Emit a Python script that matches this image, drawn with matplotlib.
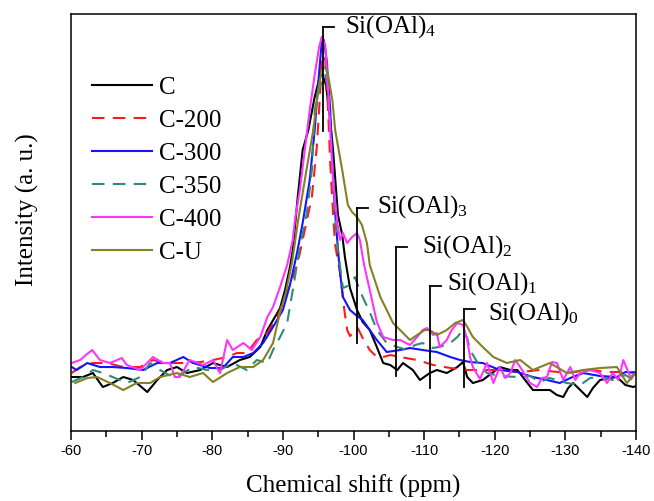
import numpy as np
import matplotlib
matplotlib.use('Agg')
import matplotlib.pyplot as plt

# chemical shift (ppm) and intensity (a.u.)
c_ppm = [-60.1, -61.7, -63.1, -64.5, -65.9, -67.4, -68.8, -70.8, -72.2, -73.6, -75.0, -76.4, -78.3, -80.1,
         -82.1, -83.9, -85.3, -86.8, -87.8, -89.2, -89.6, -90.3, -91.0, -91.4, -92.1, -92.8, -93.6, -94.5,
         -95.1, -95.5, -96.1, -96.7, -97.1, -97.8, -98.4, -98.8, -99.5, -100.5, -101.3, -102.3, -103.3,
         -104.2, -105.2, -106.2, -107.0, -108.4, -109.4, -110.8, -111.8, -113.2, -114.7, -115.5, -116.1,
         -116.9, -118.3, -119.8, -120.7, -122.2, -123.2, -124.3, -125.4, -126.8, -127.8, -128.8, -129.7,
         -130.4, -131.1, -132.1, -133.1, -133.9, -134.9, -136.3, -137.3, -138.5, -139.6, -140.0]
c_int = [54, 54, 58, 44, 48, 54, 51, 39, 51, 61, 64, 58, 61, 68,
         64, 71, 74, 84, 101, 118, 123, 141, 164, 181, 234, 281, 301, 334,
         351, 358, 346, 311, 281, 216, 196, 173, 143, 121, 109, 101, 84,
         68, 66, 61, 68, 61, 51, 58, 61, 58, 64, 69, 54,
         48, 51, 59, 64, 61, 61, 51, 41, 41, 41, 36, 34,
         43, 48, 41, 34, 43, 51, 53, 54, 46, 44, 45]

c200_ppm = [-60.1, -61.3, -63.1, -65.1, -67.4, -69.8, -71.6, -73.6, -76.4, -78.3, -80.1, -82.1, -83.5, -84.9,
            -86.3, -87.8, -89.2, -90.0, -91.0, -92.0, -92.4, -93.1, -94.1, -94.8, -95.3, -95.5, -96.0, -96.4,
            -96.7, -97.1, -97.4, -98.1, -98.7, -99.1, -99.5, -99.9, -100.6, -101.3, -102.3, -103.3, -104.2,
            -105.2, -106.6, -109.0, -111.3, -113.7, -116.1, -118.3, -120.7, -123.6, -126.4, -130.2, -133.5,
            -136.3, -140.0]
c200_int = [58, 64, 68, 68, 64, 64, 71, 68, 68, 69, 71, 74, 78, 78,
            91, 98, 114, 128, 146, 166, 178, 201, 234, 284, 341, 376, 371, 321,
            268, 218, 186, 158, 121, 101, 95, 98, 103, 93, 81, 74, 74,
            76, 74, 71, 66, 63, 61, 61, 61, 59, 61, 58, 61,
            59, 59]

c300_ppm = [-60.1, -60.8, -62.3, -64.1, -65.9, -67.9, -70.2, -72.2, -74.0, -75.9, -77.3, -79.7, -81.5, -82.9,
            -84.4, -85.8, -87.2, -88.6, -90.0, -91.0, -92.0, -92.8, -93.8, -94.5, -95.1, -95.5, -95.8, -96.2,
            -96.7, -97.0, -97.4, -97.8, -98.1, -98.5, -99.5, -100.5, -101.3, -102.3, -103.3, -104.7, -106.6,
            -108.0, -109.8, -111.8, -113.7, -115.1, -116.5, -118.3, -120.7, -123.2, -125.4, -127.4, -129.2,
            -130.7, -132.5, -134.9, -137.3, -138.5, -140.0]
c300_int = [64, 61, 68, 64, 64, 63, 61, 68, 68, 74, 68, 63, 63, 74,
            74, 78, 88, 104, 121, 146, 178, 208, 251, 301, 356, 389, 391, 371,
            321, 268, 218, 181, 158, 134, 121, 115, 111, 101, 91, 79, 81,
            83, 81, 79, 74, 71, 69, 68, 61, 59, 54, 51, 48,
            53, 58, 55, 54, 59, 58]

c350_ppm = [-60.1, -61.7, -63.1, -64.5, -65.9, -67.9, -69.8, -71.2, -72.6, -74.4, -75.9, -77.3, -79.3, -81.1,
            -82.9, -84.9, -86.3, -87.8, -88.6, -89.6, -90.6, -91.4, -92.4, -93.4, -94.1, -94.5, -95.3, -96.0,
            -96.4, -97.0, -97.4, -97.8, -98.5, -99.5, -100.2, -100.6, -101.3, -102.3, -103.3, -104.7, -106.2,
            -107.6, -108.7, -109.8, -111.1, -112.2, -113.7, -114.7, -115.5, -116.1, -116.5, -117.5, -118.9,
            -120.7, -123.2, -125.0, -126.4, -127.8, -130.2, -132.1, -133.5, -134.9, -136.7, -138.5, -139.6,
            -140.0]
c350_int = [49, 54, 61, 58, 54, 48, 54, 68, 61, 54, 58, 64, 61, 61,
            68, 61, 71, 68, 81, 94, 108, 141, 184, 218, 261, 321, 346, 356,
            341, 268, 216, 181, 143, 146, 154, 146, 134, 119, 101, 88, 84,
            81, 86, 88, 83, 84, 88, 94, 101, 93, 81, 69, 58,
            55, 54, 55, 49, 53, 48, 46, 53, 54, 51, 56, 51,
            49]

c400_ppm = [-60.1, -61.3, -62.1, -63.0, -64.1, -65.5, -67.2, -67.9, -69.8, -71.6, -73.0, -74.0, -74.7, -75.4,
            -76.8, -78.7, -80.1, -81.1, -82.1, -82.9, -84.4, -85.6, -86.8, -87.8, -88.6, -89.6, -90.6, -91.4,
            -91.7, -92.4, -93.1, -93.8, -94.5, -95.1, -95.5, -96.0, -96.4, -96.7, -97.1, -97.7, -98.1, -98.5,
            -99.1, -99.8, -100.5, -100.9, -101.5, -102.3, -103.3, -104.2, -105.6, -106.6, -108.0, -109.0,
            -109.8, -110.4, -111.3, -111.8, -112.2, -113.2, -113.9, -114.7, -115.5, -116.1, -116.5, -116.9,
            -117.9, -118.9, -119.8, -120.7, -121.5, -122.2, -122.9, -123.6, -124.3, -125.0, -126.0, -126.7,
            -127.4, -128.1, -128.8, -129.7, -130.7, -131.4, -132.1, -133.5, -134.9, -135.9, -136.7, -137.5,
            -138.2, -139.2, -140.0]
c400_int = [68, 71, 76, 81, 71, 68, 73, 66, 61, 74, 68, 68, 54, 54,
            71, 66, 71, 58, 91, 81, 88, 81, 94, 114, 124, 144, 166, 191,
            211, 241, 281, 321, 356, 383, 394, 386, 341, 301, 251, 208, 191, 198,
            188, 194, 198, 191, 166, 141, 109, 94, 91, 91, 86, 94,
            101, 103, 96, 98, 84, 91, 101, 108, 106, 91, 74, 64,
            52, 68, 48, 64, 53, 58, 71, 64, 56, 48, 44, 53,
            54, 69, 68, 51, 64, 51, 58, 61, 58, 48, 58, 51,
            71, 54, 58]

cu_ppm = [-60.6, -62.3, -63.7, -65.5, -67.4, -69.3, -71.2, -72.6, -75.0, -76.8, -78.7, -80.1, -82.1, -83.9,
          -85.8, -87.2, -88.6, -89.6, -90.4, -91.3, -92.1, -93.1, -94.3, -95.0, -95.5, -96.0, -96.4, -97.0,
          -97.4, -98.4, -99.2, -99.8, -100.5, -101.2, -101.9, -102.3, -103.8, -105.6, -106.6, -108.0, -109.0,
          -110.1, -110.8, -111.8, -113.2, -114.4, -115.5, -116.2, -116.9, -118.3, -119.8, -121.7, -123.6,
          -125.4, -127.8, -130.2, -132.5, -134.9, -137.3, -138.7, -140.0]
cu_int = [48, 53, 54, 48, 41, 48, 48, 54, 58, 54, 58, 49, 58, 64,
          64, 71, 88, 119, 138, 169, 208, 251, 301, 341, 361, 364, 356, 331,
          301, 261, 226, 219, 214, 206, 188, 166, 134, 108, 101, 91, 96,
          101, 101, 96, 101, 108, 111, 103, 94, 84, 74, 68, 71,
          61, 68, 58, 61, 63, 64, 48, 58]

series = [
    ('C', c_ppm, c_int, '#000000', '-'),
    ('C-200', c200_ppm, c200_int, '#ff1a1a', '--'),
    ('C-300', c300_ppm, c300_int, '#1414ff', '-'),
    ('C-350', c350_ppm, c350_int, '#2e8b7b', '--'),
    ('C-400', c400_ppm, c400_int, '#ff33ff', '-'),
    ('C-U', cu_ppm, cu_int, '#828224', '-'),
]

# Q^n assignments: line position, line bottom, line top, label baseline
site_labels = ['Si(OAl)$_4$', 'Si(OAl)$_3$', 'Si(OAl)$_2$', 'Si(OAl)$_1$', 'Si(OAl)$_0$']
site_ppm = [-95.7, -100.5, -106.0, -110.8, -115.6]
site_bottom = [300, 88, 55, 43, 44]
site_top = [404, 223, 184, 145, 122]
site_text_ppm = [-98.8, -103.3, -109.7, -113.2, -119.0]
site_text_y = [398, 218, 178, 141, 111]

plt.rcParams['font.family'] = ['Liberation Serif', 'DejaVu Serif']
plt.rcParams['mathtext.fontset'] = 'custom'
plt.rcParams['mathtext.rm'] = 'Liberation Serif'
plt.rcParams['mathtext.it'] = 'Liberation Serif:italic'
plt.rcParams['axes.unicode_minus'] = False

fig = plt.figure(figsize=(6.54, 5.01), dpi=100)
ax = fig.add_axes([0.1086, 0.1397, 0.8639, 0.8323])

for name, xs, ys, col, ls in series:
    line, = ax.plot(xs, ys, color=col, lw=1.5, ls=ls, label=name)
    if ls == '--':
        line.set_dashes((6, 4))

for lab, xp, yb, yt, xt, yt2 in zip(site_labels, site_ppm, site_bottom, site_top,
                                     site_text_ppm, site_text_y):
    ax.plot([xp, xp], [yb, yt], color='black', lw=1.3)
    ax.plot([xp, xp - 1.6], [yt, yt], color='black', lw=1.3)
    ax.text(xt, yt2, lab, fontsize=18, va='baseline', ha='left')

ax.set_xlim(-60, -140)
ax.set_ylim(0, 417)
ax.set_xticks(np.arange(-60, -141, -10))
ax.set_xticks(np.arange(-65, -140, -10), minor=True)
ax.set_yticks([])
for lbl in ax.get_xticklabels():
    lbl.set_fontfamily('Liberation Sans')
ax.tick_params(axis='x', which='major', direction='out', length=6.5, width=1.1,
               labelsize=10.5, pad=3)
ax.tick_params(axis='x', which='minor', direction='out', length=4, width=1.1)
for sp in ax.spines.values():
    sp.set_linewidth(1.1)

ax.set_xlabel('Chemical shift (ppm)', fontsize=18)
ax.xaxis.label.set_va('center')
ax.xaxis.set_label_coords(0.5, -0.132)
ax.set_ylabel('Intensity (a. u.)', fontsize=18)
ax.yaxis.label.set_va('center')
ax.yaxis.set_label_coords(-0.078, 0.53)

leg = ax.legend(loc='upper left', bbox_to_anchor=(0.037, 0.85), frameon=False, fontsize=18,
                handlelength=2.4, handletextpad=0.3, labelspacing=0.42, borderpad=0,
                borderaxespad=0)

fig.savefig('out.png', dpi=100)
